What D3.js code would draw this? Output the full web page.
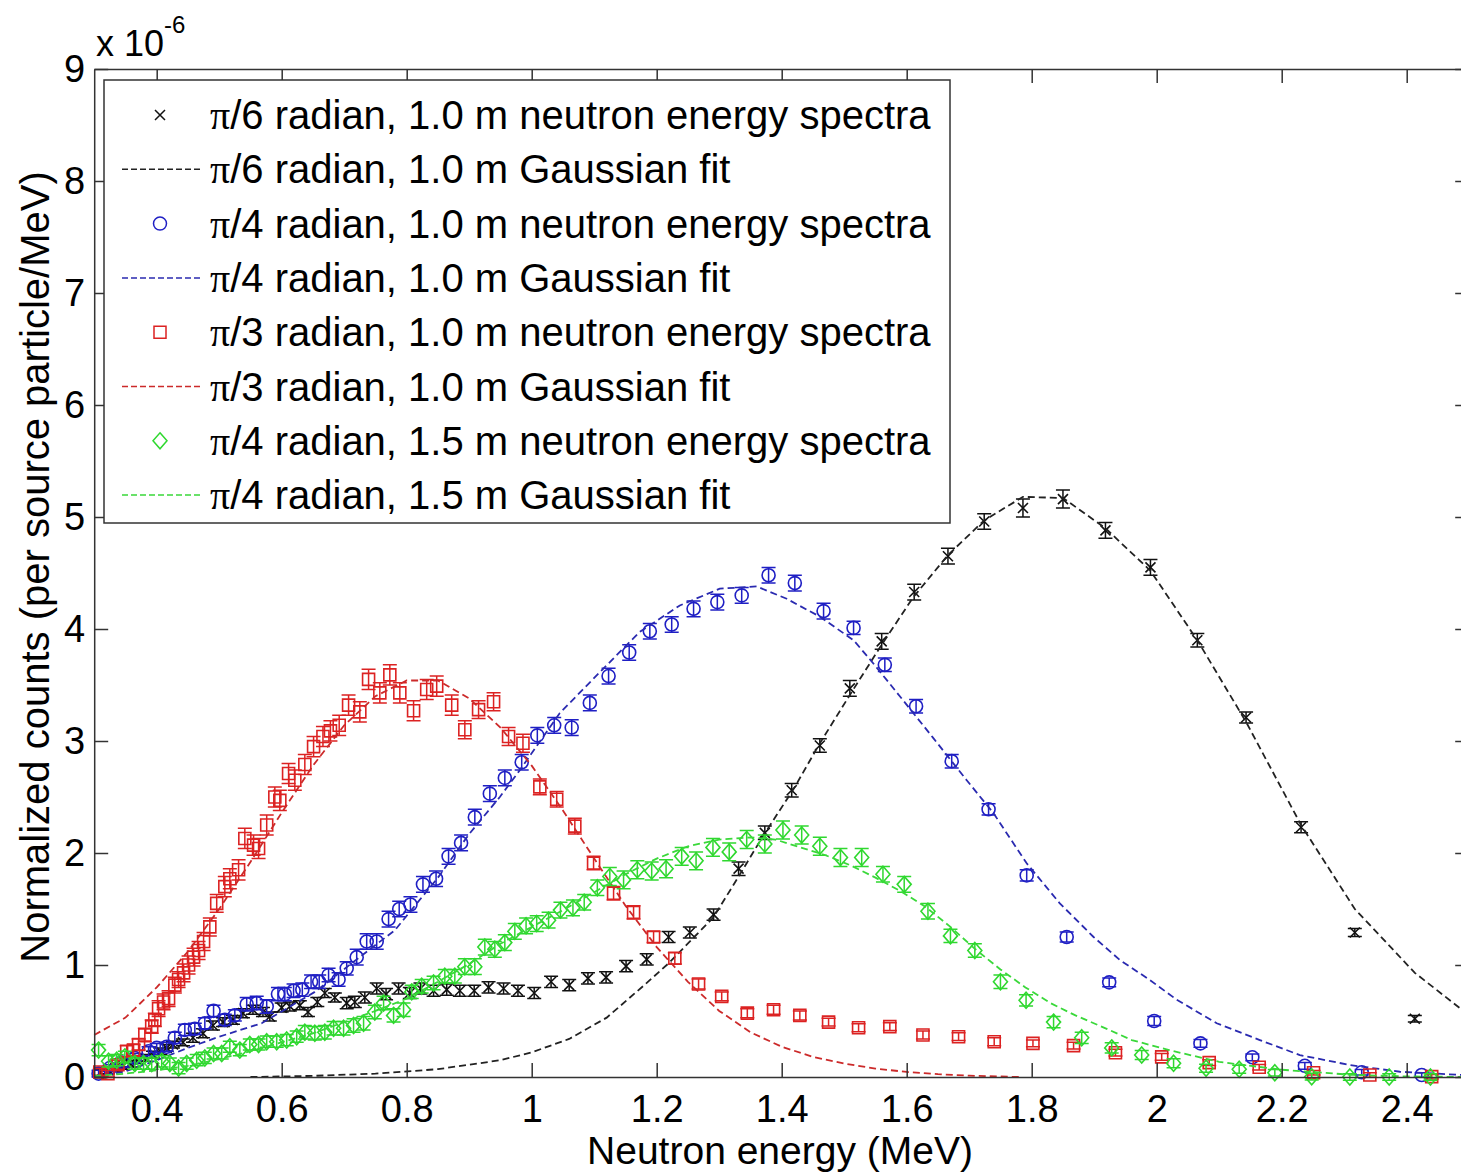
<!DOCTYPE html>
<html>
<head>
<meta charset="utf-8">
<script src="https://cdn.jsdelivr.net/npm/d3@7"></script>
<style>
  body { margin: 0; background: #fff; }
  svg { display: block; }
  text { font-family: "Liberation Sans", Arial, sans-serif; fill: #000; }
</style>
</head>
<body>
<svg id="chart" width="1461" height="1176"></svg>
<script>
// Axis ticks
const xTicks = [0.4, 0.6, 0.8, 1, 1.2, 1.4, 1.6, 1.8, 2, 2.2, 2.4];
const yTicks = [0, 1, 2, 3, 4, 5, 6, 7, 8, 9];

// Measured spectra: [energy (MeV), counts (1e-6 per source particle/MeV), error]
const specPi6 = [
  [0.310,0.04,0.03],[0.322,0.06,0.03],[0.334,0.08,0.03],[0.346,0.10,0.03],[0.358,0.12,0.03],
  [0.370,0.15,0.03],[0.382,0.17,0.03],[0.394,0.20,0.03],[0.406,0.23,0.03],[0.416,0.26,0.03],
  [0.426,0.29,0.03],[0.442,0.31,0.03],[0.458,0.35,0.04],[0.474,0.39,0.04],[0.490,0.46,0.04],
  [0.506,0.49,0.04],[0.522,0.51,0.04],[0.538,0.57,0.04],[0.554,0.60,0.04],[0.570,0.58,0.04],
  [0.581,0.54,0.04],[0.600,0.62,0.04],[0.613,0.63,0.04],[0.629,0.64,0.04],[0.642,0.58,0.04],
  [0.657,0.67,0.04],[0.669,0.75,0.04],[0.685,0.71,0.04],[0.704,0.66,0.05],[0.717,0.67,0.05],
  [0.733,0.71,0.05],[0.752,0.79,0.05],[0.767,0.74,0.05],[0.787,0.79,0.05],[0.805,0.75,0.05],
  [0.822,0.79,0.05],[0.843,0.77,0.05],[0.864,0.78,0.05],[0.885,0.77,0.05],[0.908,0.77,0.05],
  [0.931,0.80,0.05],[0.955,0.79,0.05],[0.978,0.77,0.05],[1.004,0.75,0.05],[1.031,0.85,0.05],
  [1.060,0.82,0.05],[1.090,0.88,0.05],[1.119,0.89,0.05],[1.151,0.99,0.05],[1.184,1.05,0.05],
  [1.219,1.25,0.05],[1.253,1.29,0.05],[1.291,1.45,0.05],[1.331,1.86,0.06],[1.373,2.18,0.06],
  [1.416,2.56,0.06],[1.461,2.96,0.06],[1.509,3.47,0.07],[1.560,3.89,0.07],[1.612,4.33,0.07],
  [1.666,4.65,0.07],[1.724,4.96,0.07],[1.786,5.08,0.08],[1.850,5.16,0.08],[1.918,4.88,0.07],
  [1.990,4.55,0.07],[2.065,3.90,0.06],[2.143,3.21,0.05],[2.231,2.23,0.05],[2.317,1.29,0.035],
  [2.413,0.52,0.03]
];
const fitPi6 = [
  [0.55,0.0],[0.65,0.01],[0.75,0.03],[0.85,0.07],[0.95,0.15],[1.00,0.22],[1.06,0.34],
  [1.12,0.53],[1.18,0.82],[1.22,1.02],[1.26,1.25],[1.29,1.42],[1.33,1.78],[1.37,2.15],
  [1.42,2.58],[1.46,2.97],[1.51,3.42],[1.56,3.86],[1.61,4.28],[1.666,4.66],[1.724,4.97],
  [1.786,5.18],[1.85,5.17],[1.918,4.90],[1.99,4.52],[2.065,3.90],[2.143,3.17],[2.231,2.25],
  [2.317,1.50],[2.413,0.93],[2.5,0.55]
];

const specPi4 = [
  [0.307,0.03,0.03],[0.325,0.08,0.03],[0.345,0.13,0.04],[0.365,0.17,0.04],[0.387,0.23,0.04],
  [0.400,0.26,0.04],[0.416,0.27,0.04],[0.429,0.35,0.05],[0.445,0.42,0.05],[0.461,0.43,0.05],
  [0.477,0.48,0.05],[0.491,0.59,0.05],[0.509,0.51,0.05],[0.525,0.55,0.05],[0.544,0.65,0.06],
  [0.560,0.66,0.06],[0.576,0.63,0.06],[0.594,0.74,0.06],[0.605,0.74,0.06],[0.619,0.77,0.06],
  [0.633,0.78,0.06],[0.647,0.85,0.06],[0.660,0.85,0.06],[0.675,0.91,0.06],[0.691,0.87,0.06],
  [0.704,0.97,0.06],[0.720,1.07,0.07],[0.736,1.21,0.07],[0.752,1.21,0.07],[0.771,1.41,0.07],
  [0.788,1.50,0.07],[0.806,1.54,0.07],[0.826,1.72,0.07],[0.847,1.77,0.07],[0.867,1.97,0.07],
  [0.887,2.09,0.07],[0.909,2.32,0.07],[0.933,2.53,0.07],[0.957,2.67,0.07],[0.984,2.81,0.07],
  [1.009,3.05,0.07],[1.036,3.14,0.07],[1.064,3.12,0.07],[1.093,3.34,0.07],[1.123,3.58,0.07],
  [1.156,3.79,0.07],[1.189,3.98,0.07],[1.224,4.04,0.07],[1.259,4.18,0.07],[1.297,4.24,0.07],
  [1.336,4.30,0.07],[1.379,4.48,0.07],[1.421,4.41,0.07],[1.467,4.16,0.07],[1.515,4.01,0.06],
  [1.565,3.68,0.06],[1.615,3.31,0.06],[1.672,2.82,0.06],[1.731,2.39,0.05],[1.792,1.80,0.05],
  [1.856,1.25,0.045],[1.924,0.845,0.04],[1.996,0.50,0.04],[2.070,0.30,0.035],[2.153,0.176,0.03],
  [2.237,0.10,0.03],[2.328,0.042,0.025],[2.424,0.018,0.02]
];
const fitPi4 = [
  [0.30,0.0],[0.35,0.05],[0.40,0.15],[0.45,0.26],[0.50,0.36],[0.568,0.48],[0.653,0.76],
  [0.72,1.05],[0.781,1.31],[0.85,1.78],[0.90,2.17],[0.949,2.50],[0.981,2.74],[1.045,3.25],
  [1.11,3.62],[1.173,3.975],[1.237,4.21],[1.301,4.36],[1.36,4.38],[1.408,4.27],[1.461,4.11],
  [1.515,3.90],[1.547,3.69],[1.589,3.40],[1.642,3.03],[1.696,2.65],[1.739,2.354],[1.792,1.908],
  [1.845,1.55],[1.899,1.25],[1.941,1.045],[1.989,0.866],[2.032,0.69],[2.096,0.48],[2.165,0.33],
  [2.229,0.196],[2.309,0.107],[2.389,0.047],[2.5,0.015]
];

const specPi3 = [
  [0.309,0.045,0.03],[0.322,0.03,0.03],[0.338,0.11,0.04],[0.352,0.23,0.05],[0.363,0.24,0.05],
  [0.371,0.29,0.05],[0.381,0.375,0.06],[0.392,0.45,0.06],[0.397,0.51,0.06],[0.403,0.61,0.07],
  [0.411,0.67,0.07],[0.419,0.70,0.07],[0.429,0.82,0.07],[0.435,0.87,0.07],[0.443,0.93,0.08],
  [0.451,1.00,0.08],[0.459,1.07,0.08],[0.467,1.13,0.08],[0.475,1.21,0.08],[0.485,1.34,0.08],
  [0.496,1.55,0.08],[0.509,1.70,0.09],[0.517,1.77,0.09],[0.531,1.85,0.09],[0.541,2.13,0.09],
  [0.555,2.07,0.09],[0.563,2.04,0.09],[0.576,2.25,0.09],[0.589,2.50,0.09],[0.597,2.47,0.09],
  [0.611,2.71,0.09],[0.621,2.65,0.09],[0.637,2.79,0.09],[0.651,2.95,0.09],[0.666,3.04,0.09],
  [0.678,3.09,0.09],[0.692,3.14,0.09],[0.707,3.32,0.09],[0.725,3.26,0.09],[0.739,3.55,0.09],
  [0.757,3.43,0.09],[0.773,3.59,0.09],[0.789,3.43,0.09],[0.811,3.27,0.09],[0.832,3.46,0.09],
  [0.848,3.49,0.09],[0.872,3.32,0.09],[0.893,3.10,0.08],[0.915,3.28,0.08],[0.939,3.35,0.08],
  [0.963,3.04,0.08],[0.986,2.98,0.08],[1.013,2.59,0.07],[1.040,2.48,0.07],[1.069,2.24,0.07],
  [1.099,1.91,0.06],[1.131,1.64,0.06],[1.163,1.47,0.06],[1.195,1.25,0.05],[1.229,1.06,0.05],
  [1.267,0.83,0.045],[1.304,0.72,0.04],[1.345,0.57,0.04],[1.387,0.60,0.04],[1.429,0.55,0.04],
  [1.475,0.49,0.035],[1.523,0.44,0.035],[1.573,0.45,0.035],[1.626,0.375,0.035],[1.683,0.36,0.035],
  [1.740,0.315,0.035],[1.802,0.30,0.03],[1.867,0.28,0.03],[1.934,0.217,0.03],[2.008,0.18,0.03],
  [2.084,0.128,0.025],[2.164,0.087,0.025],[2.251,0.038,0.02],[2.341,0.018,0.02],[2.440,0.003,0.02]
];
const fitPi3 = [
  [0.30,0.375],[0.35,0.53],[0.40,0.80],[0.45,1.12],[0.50,1.50],[0.55,1.92],[0.60,2.36],
  [0.65,2.78],[0.70,3.14],[0.75,3.40],[0.80,3.54],[0.85,3.54],[0.90,3.38],[0.95,3.12],
  [1.00,2.78],[1.05,2.38],[1.10,1.95],[1.15,1.53],[1.20,1.16],[1.25,0.85],[1.30,0.59],
  [1.35,0.40],[1.40,0.27],[1.45,0.18],[1.50,0.12],[1.55,0.075],[1.60,0.045],[1.65,0.025],
  [1.70,0.012],[1.78,0.0]
];

const specPi4far = [
  [0.307,0.24,0.05],[0.323,0.14,0.05],[0.336,0.15,0.05],[0.349,0.18,0.05],[0.365,0.12,0.05],
  [0.379,0.12,0.05],[0.392,0.12,0.05],[0.408,0.14,0.05],[0.421,0.12,0.05],[0.435,0.08,0.05],
  [0.448,0.12,0.05],[0.464,0.15,0.05],[0.477,0.17,0.05],[0.491,0.21,0.05],[0.504,0.21,0.05],
  [0.517,0.27,0.05],[0.533,0.24,0.05],[0.549,0.29,0.05],[0.563,0.29,0.05],[0.576,0.315,0.05],
  [0.592,0.315,0.05],[0.608,0.33,0.05],[0.624,0.36,0.05],[0.637,0.40,0.06],[0.653,0.39,0.06],
  [0.669,0.40,0.06],[0.683,0.435,0.06],[0.699,0.435,0.06],[0.715,0.46,0.06],[0.731,0.48,0.06],
  [0.749,0.58,0.06],[0.763,0.66,0.06],[0.779,0.55,0.06],[0.795,0.60,0.06],[0.808,0.76,0.06],
  [0.824,0.81,0.06],[0.843,0.84,0.06],[0.861,0.90,0.06],[0.877,0.90,0.06],[0.893,0.985,0.07],
  [0.909,0.985,0.07],[0.925,1.16,0.07],[0.941,1.14,0.07],[0.957,1.20,0.07],[0.973,1.30,0.07],
  [0.991,1.35,0.07],[1.008,1.37,0.07],[1.027,1.40,0.07],[1.046,1.49,0.07],[1.066,1.51,0.07],
  [1.084,1.56,0.07],[1.105,1.69,0.07],[1.125,1.79,0.08],[1.147,1.76,0.08],[1.169,1.85,0.08],
  [1.192,1.84,0.08],[1.215,1.86,0.08],[1.240,1.97,0.08],[1.263,1.93,0.08],[1.290,2.05,0.08],
  [1.316,2.01,0.08],[1.344,2.12,0.08],[1.373,2.08,0.08],[1.402,2.205,0.08],[1.432,2.16,0.08],
  [1.461,2.06,0.08],[1.494,1.96,0.08],[1.528,1.96,0.08],[1.562,1.81,0.07],[1.596,1.72,0.07],
  [1.634,1.48,0.07],[1.670,1.26,0.06],[1.709,1.13,0.06],[1.750,0.85,0.06],[1.791,0.685,0.05],
  [1.835,0.49,0.05],[1.880,0.35,0.05],[1.928,0.26,0.045],[1.976,0.196,0.04],[2.027,0.122,0.04],
  [2.079,0.078,0.035],[2.132,0.069,0.035],[2.189,0.038,0.03],[2.248,0.003,0.03],[2.309,0.0,0.03],
  [2.372,0.0,0.03],[2.438,0.0,0.03]
];
const fitPi4far = [
  [0.30,0.01],[0.35,0.03],[0.40,0.06],[0.45,0.10],[0.50,0.16],[0.55,0.23],[0.60,0.31],
  [0.65,0.39],[0.70,0.49],[0.75,0.59],[0.80,0.70],[0.85,0.85],[0.90,1.01],[0.95,1.19],
  [1.00,1.34],[1.05,1.49],[1.10,1.65],[1.15,1.81],[1.20,1.95],[1.25,2.06],[1.30,2.12],
  [1.35,2.14],[1.39,2.12],[1.43,2.05],[1.47,1.98],[1.51,1.89],[1.55,1.78],[1.59,1.66],
  [1.63,1.52],[1.67,1.34],[1.71,1.14],[1.75,0.96],[1.79,0.80],[1.83,0.66],[1.87,0.55],
  [1.92,0.43],[1.96,0.33],[2.02,0.24],[2.10,0.135],[2.20,0.065],[2.31,0.02],[2.40,0.005],
  [2.5,0.0]
];

const legendLabels = [
  ["/6 radian, 1.0 m neutron energy spectra", "/6 radian, 1.0 m Gaussian fit"],
  ["/4 radian, 1.0 m neutron energy spectra", "/4 radian, 1.0 m Gaussian fit"],
  ["/3 radian, 1.0 m neutron energy spectra", "/3 radian, 1.0 m Gaussian fit"],
  ["/4 radian, 1.5 m neutron energy spectra", "/4 radian, 1.5 m Gaussian fit"]
];

const series = [
  { spec: specPi6,    fit: fitPi6,    color: "#111111", fitColor: "#222222", marker: "cross" },
  { spec: specPi4,    fit: fitPi4,    color: "#1f1fc4", fitColor: "#2a2ab0", marker: "circle" },
  { spec: specPi3,    fit: fitPi3,    color: "#dc2222", fitColor: "#cc2a2a", marker: "square" },
  { spec: specPi4far, fit: fitPi4far, color: "#2fd82f", fitColor: "#3ad83a", marker: "diamond" }
];

const W = 1461, H = 1176;
const x = d3.scaleLinear().domain([0.3, 2.5]).range([94.2, 1469.2]);
const y = d3.scaleLinear().domain([0, 9]).range([1077, 69]);

const svg = d3.select("#chart");
svg.append("rect").attr("width", W).attr("height", H).attr("fill", "#fff");

// marker outline, centred on (cx, cy)
function markerPath(type, cx, cy) {
  const p = d3.path();
  if (type === "cross") {
    const s = 5;
    p.moveTo(cx - s, cy - s); p.lineTo(cx + s, cy + s);
    p.moveTo(cx - s, cy + s); p.lineTo(cx + s, cy - s);
  } else if (type === "circle") {
    p.moveTo(cx + 6.5, cy); p.arc(cx, cy, 6.5, 0, 2 * Math.PI);
  } else if (type === "square") {
    const s = 6;
    p.rect(cx - s, cy - s, 2 * s, 2 * s);
  } else if (type === "diamond") {
    const a = 7, b = 8;
    p.moveTo(cx, cy - b); p.lineTo(cx + a, cy); p.lineTo(cx, cy + b); p.lineTo(cx - a, cy); p.closePath();
  }
  return p.toString();
}

const plot = svg.append("g");
const line = d3.line().x(d => x(d[0])).y(d => y(d[1]));
const cap = 7;

series.forEach(s => {
  const g = plot.append("g");
  // error bars
  g.selectAll("path.err").data(s.spec).join("path")
    .attr("class", "err")
    .attr("d", d => {
      const cx = x(d[0]), y1 = y(d[1] + d[2]), y0 = y(d[1] - d[2]);
      return `M${cx},${y0}V${y1}M${cx - cap},${y1}H${cx + cap}M${cx - cap},${y0}H${cx + cap}`;
    })
    .attr("fill", "none").attr("stroke", s.color).attr("stroke-width", 1.5);
  // markers
  g.selectAll("path.mk").data(s.spec).join("path")
    .attr("class", "mk")
    .attr("d", d => markerPath(s.marker, x(d[0]), y(d[1])))
    .attr("fill", "none").attr("stroke", s.color).attr("stroke-width", 1.6);
  // fitted curve
  g.append("path").datum(s.fit)
    .attr("d", line)
    .attr("fill", "none").attr("stroke", s.fitColor)
    .attr("stroke-width", 1.8).attr("stroke-dasharray", "7,4");
});

// axes with inward ticks on all four sides
const axisColor = "#333";
function styleAxis(g, fs) {
  g.select(".domain").attr("stroke", axisColor).attr("stroke-width", 1.5);
  g.selectAll(".tick line").attr("stroke", axisColor).attr("stroke-width", 1.5);
  g.selectAll("text").attr("font-size", fs).attr("fill", "#000")
    .attr("font-family", '"Liberation Sans", Arial, sans-serif');
}
const fmt = d => String(d);
svg.append("g").attr("transform", "translate(0,1077)")
  .call(d3.axisBottom(x).tickValues(xTicks).tickSizeInner(-14).tickSizeOuter(0).tickPadding(18).tickFormat(fmt))
  .call(g => styleAxis(g, 38));
svg.append("g").attr("transform", "translate(0,69)")
  .call(d3.axisTop(x).tickValues(xTicks).tickSizeInner(-14).tickSizeOuter(0).tickFormat(""))
  .call(g => styleAxis(g, 38));
svg.append("g").attr("transform", `translate(${x(0.3)},0)`)
  .call(d3.axisLeft(y).tickValues(yTicks).tickSizeInner(-14).tickSizeOuter(0).tickPadding(9).tickFormat(fmt))
  .call(g => styleAxis(g, 38));
svg.append("g").attr("transform", `translate(${x(2.5)},0)`)
  .call(d3.axisRight(y).tickValues(yTicks).tickSizeInner(-14).tickSizeOuter(0).tickFormat(""))
  .call(g => styleAxis(g, 38));

// exponent label
const expo = svg.append("text").attr("x", 96).attr("y", 56).attr("font-size", 36);
expo.append("tspan").text("x 10");
expo.append("tspan").attr("font-size", 24).attr("dy", -23).text("-6");

// axis titles
svg.append("text").attr("x", 780).attr("y", 1164).attr("text-anchor", "middle")
  .attr("font-size", 39).text("Neutron energy (MeV)");
svg.append("text").attr("transform", "translate(49,567) rotate(-90)").attr("text-anchor", "middle")
  .attr("font-size", 40).text("Normalized counts (per source particle/MeV)");

// legend
const leg = svg.append("g");
leg.append("rect").attr("x", 104).attr("y", 80).attr("width", 846).attr("height", 443)
  .attr("fill", "#fff").attr("stroke", axisColor).attr("stroke-width", 1.5);
const rowY0 = 115, rowStep = 54.3;
series.forEach((s, i) => {
  const yData = rowY0 + rowStep * (2 * i), yFit = rowY0 + rowStep * (2 * i + 1);
  leg.append("path").attr("d", markerPath(s.marker, 160, yData))
    .attr("fill", "none").attr("stroke", s.color).attr("stroke-width", 1.5);
  leg.append("line").attr("x1", 122).attr("x2", 201).attr("y1", yFit).attr("y2", yFit)
    .attr("stroke", s.fitColor).attr("stroke-width", 1.5).attr("stroke-dasharray", "6,3");
  [[yData, legendLabels[i][0]], [yFit, legendLabels[i][1]]].forEach(([yy, label]) => {
    const t = leg.append("text").attr("x", 210).attr("y", yy + 14).attr("font-size", 40);
    t.append("tspan").attr("font-family", '"Liberation Serif", "DejaVu Serif", serif').text("π");
    t.append("tspan").text(label);
  });
});
</script>
</body>
</html>
